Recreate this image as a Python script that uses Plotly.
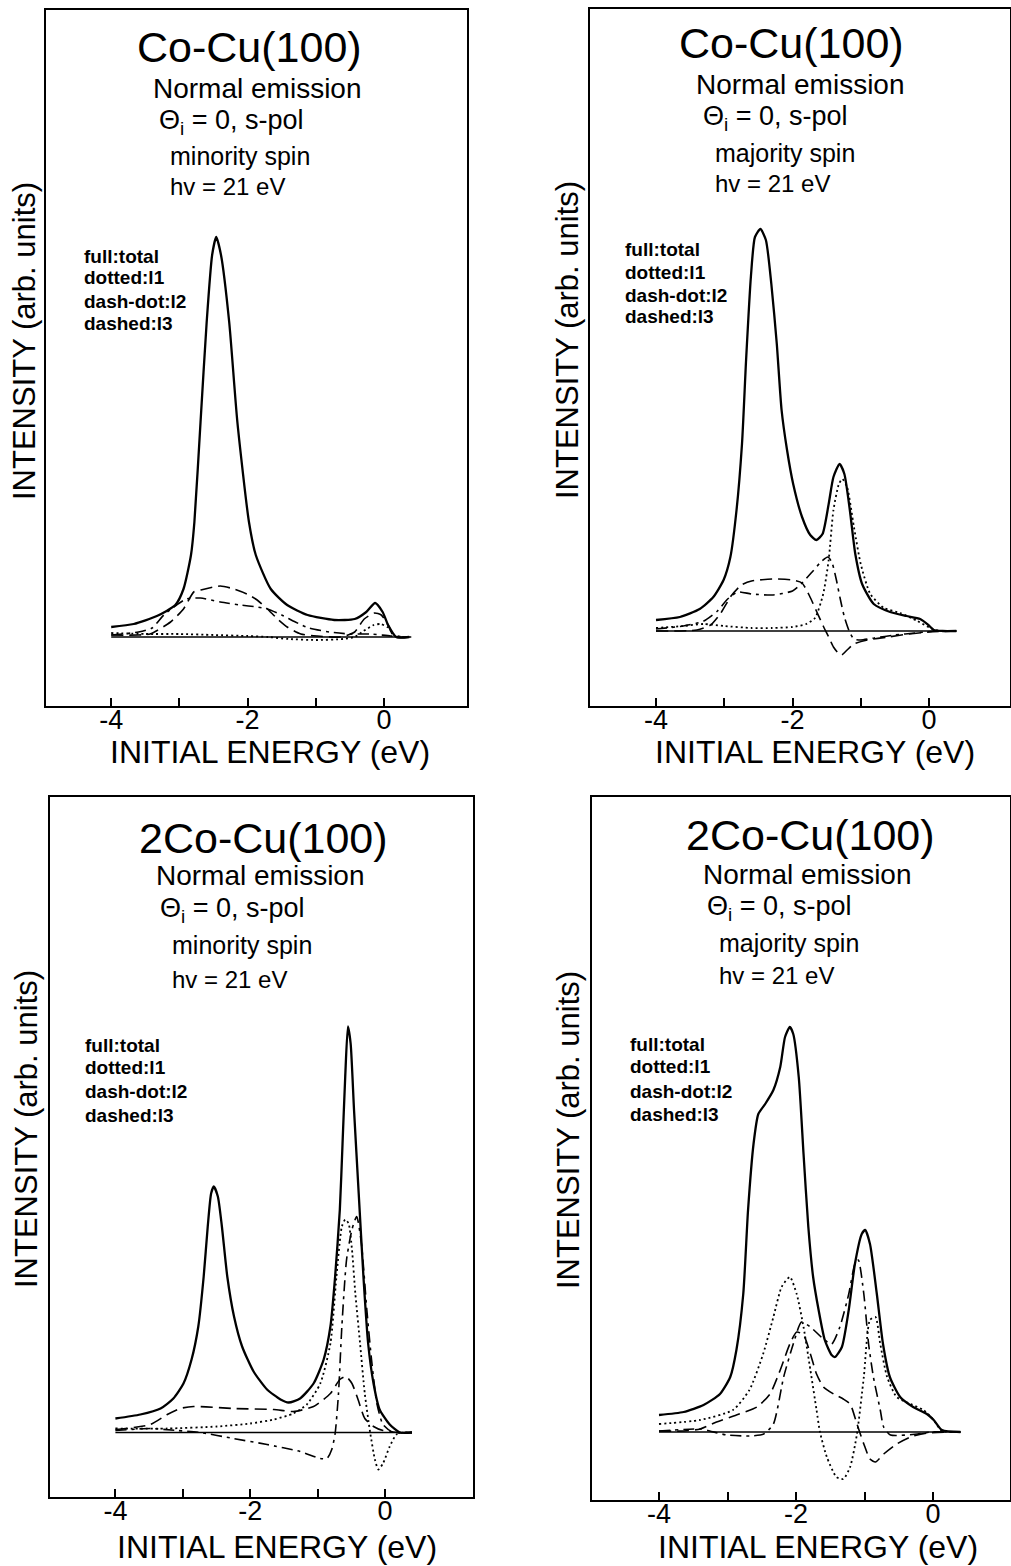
import plotly.graph_objects as go

W, H = 1011, 1566
FONT = "Liberation Sans, Arial, Helvetica, sans-serif"

# ------------------------------------------------------------------ data
energy_major_ticks = [-4, -2, 0]
energy_tick_labels = ["-4", "-2", "0"]
energy_minor_ticks = [-3, -1]
baseline_x = [-4.0, 0.4]
baseline_y = [0, 0]

panel_titles = ["Co-Cu(100)", "Co-Cu(100)", "2Co-Cu(100)", "2Co-Cu(100)"]
emission_label = "Normal emission"
angle_label = "Θ<sub>i</sub> = 0, s-pol"
spin_labels = ["minority spin", "majority spin", "minority spin", "majority spin"]
photon_label = "hv = 21 eV"
legend_lines = ["full:total", "dotted:l1", "dash-dot:l2", "dashed:l3"]
x_title = "INITIAL ENERGY (eV)"
y_title = "INTENSITY (arb. units)"

# Panel 1: Co-Cu(100), minority spin
p1_total_x = [-4.0, -3.67, -3.33, -3.06, -2.94, -2.83, -2.78, -2.69, -2.60, -2.52, -2.46, -2.39, -2.27, -2.15,
              -1.98, -1.88, -1.66, -1.42, -1.12, -0.73, -0.43, -0.26, -0.13, -0.02, 0.06, 0.18, 0.37]
p1_total_y = [10, 13, 21, 32, 48, 82, 115, 215, 315, 382, 400, 382, 315, 215,
              115, 82, 48, 32, 22, 17, 18, 25, 34, 25, 12, 0, 0]
p1_l1_x = [-4.0, -3.5, -3.0, -2.5, -2.0, -1.7, -1.4, -1.0, -0.6, -0.43, -0.3, -0.15, -0.05, 0.05, 0.15, 0.25, 0.37]
p1_l1_y = [4, 3, 3, 2, 1, 0, -2, -3, -2, 0, 6, 12, 13, 10, 2, 0, 0]
p1_l2_x = [-4.0, -3.6, -3.4, -3.23, -3.04, -2.9, -2.69, -2.4, -2.11, -1.86, -1.71, -1.5, -1.3, -1.1, -0.8, -0.5,
           -0.2, 0.1, 0.37]
p1_l2_y = [2, 5, 9, 22, 32, 38, 39, 35, 32, 30, 28, 22, 15, 9, 5, 3, 3, 1, 0]
p1_l3_x = [-4.0, -3.6, -3.43, -3.13, -2.94, -2.79, -2.69, -2.4, -2.2, -2.01, -1.86, -1.71, -1.56, -1.42, -1.22,
           -0.98, -0.63, -0.43, -0.29, -0.14, -0.04, 0.06, 0.15, 0.37]
p1_l3_y = [2, 2, 3, 15, 28, 45, 47, 51, 48, 43, 37, 28, 18, 10, 3, 1, 0, 5, 18, 24, 22, 12, 0, 0]

# Panel 2: Co-Cu(100), majority spin
p2_total_x = [-4.0, -3.65, -3.36, -3.16, -3.01, -2.91, -2.82, -2.74, -2.68, -2.61, -2.55, -2.47, -2.39, -2.31,
              -2.23, -2.16, -2.08, -1.99, -1.86, -1.74, -1.65, -1.56, -1.47, -1.40, -1.31, -1.24, -1.16, -1.08,
              -0.98, -0.81, -0.57, -0.33, -0.13, -0.01, 0.07, 0.2, 0.4]
p2_total_y = [11, 14, 22, 34, 51, 74, 121, 187, 271, 354, 394, 402, 391, 347,
              287, 221, 181, 147, 114, 96, 91, 97, 127, 154, 167, 157, 121, 77,
              47, 27, 19, 15, 12, 6, 1, 0, 0]
p2_l1_x = [-4.0, -3.6, -3.3, -3.0, -2.6, -2.3, -2.0, -1.8, -1.67, -1.55, -1.47, -1.40, -1.32, -1.27, -1.20, -1.10,
           -1.00, -0.86, -0.66, -0.42, -0.17, 0.02, 0.16, 0.4]
p2_l1_y = [3, 5, 7, 5, 3, 3, 4, 7, 13, 37, 71, 121, 147, 152, 144, 104, 67, 37, 23, 18, 10, 3, 0, 0]
p2_l2_x = [-4.0, -3.6, -3.3, -3.1, -2.95, -2.8, -2.6, -2.3, -2.0, -1.86, -1.7, -1.57, -1.48, -1.42, -1.36, -1.30,
           -1.24, -1.17, -1.1, -1.0, -0.8, -0.5, -0.2, 0.1, 0.4]
p2_l2_y = [2, 5, 10, 20, 32, 39, 37, 36, 40, 48, 60, 70, 74, 68, 52, 32, 14, 0, -8, -9, -7, -4, -2, 0, 0]
p2_l3_x = [-4.0, -3.4, -3.2, -3.05, -2.9, -2.75, -2.6, -2.3, -2.0, -1.86, -1.75, -1.65, -1.55, -1.47, -1.40, -1.33,
           -1.28, -1.2, -1.1, -0.9, -0.6, -0.3, 0.0, 0.4]
p2_l3_y = [0, 1, 6, 18, 35, 46, 50, 52, 51, 48, 35, 20, 5, -6, -16, -22, -24, -19, -13, -9, -6, -3, -1, 0]

# Panel 3: 2Co-Cu(100), minority spin
p3_total_x = [-4.0, -3.63, -3.33, -3.14, -2.99, -2.87, -2.77, -2.69, -2.63, -2.58, -2.54, -2.48, -2.42, -2.34,
              -2.24, -2.12, -1.95, -1.75, -1.55, -1.43, -1.26, -1.06, -0.91, -0.81, -0.74, -0.67, -0.63, -0.59,
              -0.55, -0.51, -0.46, -0.39, -0.32, -0.25, -0.17, -0.08, 0.07, 0.22, 0.4]
p3_total_y = [14, 18, 24, 34, 49, 73, 106, 156, 206, 239, 246, 236, 206, 156,
              116, 86, 61, 43, 33, 30, 34, 49, 73, 106, 156, 223, 289, 356,
              406, 389, 323, 239, 156, 89, 49, 23, 8, 0, 0]
p3_l1_x = [-4.0, -3.23, -2.49, -2.0, -1.65, -1.36, -1.16, -0.96, -0.81, -0.72, -0.64, -0.59, -0.54, -0.49, -0.44,
           -0.37, -0.30, -0.22, -0.15, -0.10, -0.03, 0.07, 0.17, 0.27, 0.4]
p3_l1_y = [4, 4, 6, 9, 13, 19, 28, 49, 89, 156, 206, 213, 209, 183, 139, 89, 39, 0, -27, -37, -31, -14, -2, 0, 0]
p3_l2_x = [-4.0, -3.48, -3.09, -2.74, -2.25, -1.75, -1.26, -0.96, -0.86, -0.79, -0.74, -0.69, -0.64, -0.57, -0.49,
           -0.42, -0.35, -0.27, -0.20, -0.12, -0.03, 0.12, 0.4]
p3_l2_y = [2, 4, 2, 0, -6, -12, -19, -26, -26, -17, -1, 39, 106, 173, 203, 216, 189, 123, 73, 29, 8, 0, 0]
p3_l3_x = [-4.0, -3.48, -3.23, -3.04, -2.84, -2.25, -1.65, -1.36, -1.06, -0.81, -0.67, -0.58, -0.49, -0.40, -0.30,
           -0.17, -0.03, 0.22, 0.4]
p3_l3_y = [3, 8, 18, 24, 26, 24, 23, 21, 26, 39, 53, 56, 49, 33, 14, 6, 2, 0, 0]

# Panel 4: 2Co-Cu(100), majority spin
p4_total_x = [-4.0, -3.64, -3.35, -3.11, -2.96, -2.87, -2.77, -2.70, -2.62, -2.55, -2.45, -2.33, -2.23, -2.16,
              -2.09, -2.04, -1.96, -1.89, -1.82, -1.75, -1.67, -1.58, -1.48, -1.43, -1.33, -1.23, -1.14, -1.04,
              -0.99, -0.92, -0.82, -0.73, -0.63, -0.48, -0.29, -0.09, 0.01, 0.13, 0.4]
p4_total_y = [17, 20, 27, 38, 55, 82, 138, 222, 288, 318, 328, 342, 365, 395,
              405, 398, 355, 278, 205, 155, 122, 92, 77, 75, 85, 122, 168, 198,
              202, 188, 138, 88, 55, 35, 25, 18, 12, 2, 0]
p4_l1_x = [-4.0, -3.40, -2.92, -2.68, -2.48, -2.33, -2.21, -2.09, -1.99, -1.89, -1.79, -1.70, -1.65, -1.55, -1.41,
           -1.31, -1.21, -1.11, -1.01, -0.92, -0.84, -0.77, -0.67, -0.53, -0.33, -0.14, 0.01, 0.13, 0.4]
p4_l1_y = [8, 12, 22, 42, 78, 115, 145, 155, 138, 105, 62, 22, 0, -25, -45, -47, -35, -2, 55, 112, 115, 88, 55,
           35, 28, 22, 12, 1, 0]
p4_l2_x = [-4.0, -3.40, -3.26, -3.01, -2.67, -2.47, -2.33, -2.18, -2.04, -1.92, -1.79, -1.60, -1.48, -1.36, -1.23,
           -1.14, -1.09, -1.01, -0.94, -0.87, -0.77, -0.72, -0.62, -0.23, -0.03, 0.4]
p4_l2_y = [1, 3, 1, -3, -4, -2, 8, 55, 88, 110, 105, 93, 88, 105, 138, 168, 172, 138, 88, 55, 22, 5, -3, -2, 0, 0]
p4_l3_x = [-4.0, -3.64, -3.40, -3.16, -2.87, -2.57, -2.38, -2.23, -2.09, -1.99, -1.89, -1.79, -1.70, -1.60, -1.45,
           -1.31, -1.21, -1.11, -1.01, -0.92, -0.84, -0.72, -0.53, -0.33, -0.09, 0.25, 0.4]
p4_l3_y = [1, 1, 3, 10, 17, 25, 38, 62, 88, 100, 97, 78, 58, 45, 38, 33, 28, 8, -12, -27, -30, -22, -12, -5, -1,
           0, 0]

# ------------------------------------------------------------------ layout geometry (pixels)
# left, right, top, bottom, baseline, x-pixel of 0 eV, pixels per eV
geometry = [
    (46, 467, 10, 706, 637, 384, 68.2),
    (590, 1010, 9, 706, 631, 929, 68.25),
    (50, 473, 797, 1497, 1432.5, 385, 67.4),
    (592, 1010, 797, 1500, 1432, 933, 68.5),
]
# text anchor positions (pixels)
text_pos = [
    dict(title=(249, 47), emis=(257, 89), ang=(157, 122), spin=(168, 156), hv=(168, 186),
         leg=(82, [256, 278, 301, 323]), ytit=(24, 341), xtit=(270, 752)),
    dict(title=(791, 43), emis=(800, 85), ang=(701, 118), spin=(713, 153), hv=(713, 184),
         leg=(623, [250, 272, 295, 317]), ytit=(567, 340), xtit=(815, 752)),
    dict(title=(263, 838), emis=(260, 876), ang=(158, 910), spin=(170, 945), hv=(170, 979),
         leg=(83, [1045, 1067, 1091, 1115]), ytit=(26, 1129), xtit=(277, 1547)),
    dict(title=(810, 835), emis=(807, 874), ang=(705, 908), spin=(717, 943), hv=(717, 975),
         leg=(628, [1044, 1066, 1091, 1114]), ytit=(568, 1130), xtit=(818, 1547)),
]

panels = [
    [(p1_total_x, p1_total_y), (p1_l1_x, p1_l1_y), (p1_l2_x, p1_l2_y), (p1_l3_x, p1_l3_y)],
    [(p2_total_x, p2_total_y), (p2_l1_x, p2_l1_y), (p2_l2_x, p2_l2_y), (p2_l3_x, p2_l3_y)],
    [(p3_total_x, p3_total_y), (p3_l1_x, p3_l1_y), (p3_l2_x, p3_l2_y), (p3_l3_x, p3_l3_y)],
    [(p4_total_x, p4_total_y), (p4_l1_x, p4_l1_y), (p4_l2_x, p4_l2_y), (p4_l3_x, p4_l3_y)],
]
styles = [
    dict(width=2.3, dash="solid"),
    dict(width=1.8, dash="2px,3px"),
    dict(width=1.6, dash="11px,5px,3px,5px"),
    dict(width=1.6, dash="12px,6px"),
]


def px(x):
    return x / W


def py(y):
    return 1 - y / H


fig = go.Figure()
annotations = []
for i, (geo, series, tp) in enumerate(zip(geometry, panels, text_pos)):
    left, right, top, bottom, base, x0, s = geo
    n = "" if i == 0 else str(i + 1)
    xa, ya = "x" + n, "y" + n
    for (sx, sy), st in zip(series, styles):
        fig.add_trace(go.Scatter(x=sx, y=sy, mode="lines", xaxis=xa, yaxis=ya, showlegend=False,
                                 line=dict(color="black", width=st["width"], dash=st["dash"],
                                           shape="spline", smoothing=0.6)))
    fig.add_trace(go.Scatter(x=baseline_x, y=baseline_y, mode="lines", xaxis=xa, yaxis=ya,
                             showlegend=False, line=dict(color="black", width=1.3)))
    xr = [(left - x0) / s, (right - x0) / s]
    yr = [-(bottom - base), base - top]
    fig.update_layout(**{
        "xaxis" + n: dict(domain=[px(left), px(right)], range=xr, anchor=ya,
                          showline=True, mirror=True, linecolor="black", linewidth=2,
                          ticks="inside", ticklen=8, tickwidth=1.5, tickcolor="black",
                          tickvals=energy_major_ticks, ticktext=energy_tick_labels,
                          minor=dict(tickvals=energy_minor_ticks, ticks="inside", ticklen=8,
                                     tickwidth=1.5, tickcolor="black", showgrid=False),
                          tickfont=dict(family=FONT, size=27, color="black"),
                          ticklabelstandoff=-11, showgrid=False, zeroline=False, fixedrange=True),
        "yaxis" + n: dict(domain=[py(bottom), py(top)], range=yr, anchor=xa,
                          showline=True, mirror=True, linecolor="black", linewidth=2,
                          ticks="", showticklabels=False, showgrid=False, zeroline=False, fixedrange=True),
    })
    annotations += [
        dict(text=panel_titles[i], x=px(tp["title"][0]), y=py(tp["title"][1]), xanchor="center",
             font=dict(size=43)),
        dict(text=emission_label, x=px(tp["emis"][0]), y=py(tp["emis"][1]), xanchor="center",
             font=dict(size=28)),
        dict(text=angle_label, x=px(tp["ang"][0]), y=py(tp["ang"][1]), xanchor="left",
             font=dict(size=27)),
        dict(text=spin_labels[i], x=px(tp["spin"][0]), y=py(tp["spin"][1]), xanchor="left",
             font=dict(size=25)),
        dict(text=photon_label, x=px(tp["hv"][0]), y=py(tp["hv"][1]), xanchor="left",
             font=dict(size=24)),
        dict(text=x_title, x=px(tp["xtit"][0]), y=py(tp["xtit"][1]), xanchor="center",
             font=dict(size=32)),
        dict(text=y_title, x=px(tp["ytit"][0]), y=py(tp["ytit"][1]), xanchor="center", textangle=-90,
             font=dict(size=31)),
    ]
    for label, ly in zip(legend_lines, tp["leg"][1]):
        annotations.append(dict(text="<b>" + label + "</b>", x=px(tp["leg"][0]), y=py(ly), xanchor="left",
                                font=dict(size=19)))

for a in annotations:
    a.update(xref="paper", yref="paper", yanchor="middle", showarrow=False)
    a["font"].update(family=FONT, color="black")

fig.update_layout(width=W, height=H, margin=dict(l=0, r=0, t=0, b=0),
                  paper_bgcolor="white", plot_bgcolor="white", annotations=annotations)

fig.write_html("out.html")
